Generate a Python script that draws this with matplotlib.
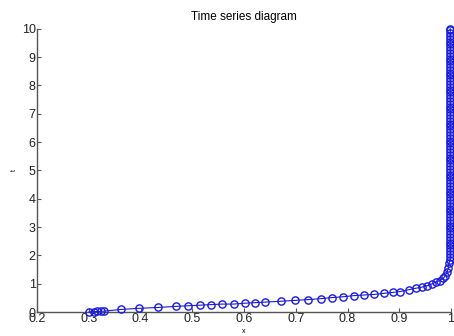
import matplotlib
matplotlib.use("Agg")
import matplotlib.pyplot as plt

# lower branch: x rises from 0.3 towards 1 while t grows slowly
x_low = [0.300, 0.310, 0.316, 0.323, 0.329, 0.362, 0.397, 0.434, 0.469, 0.492,
         0.514, 0.536, 0.558, 0.580, 0.601, 0.621, 0.641, 0.671, 0.699, 0.724,
         0.748, 0.770, 0.792, 0.813, 0.832, 0.851, 0.870, 0.887, 0.901, 0.919,
         0.932, 0.944, 0.954, 0.963, 0.970, 0.978, 0.985, 0.989, 0.992, 0.995,
         0.996]
t_low = [0.00, 0.01, 0.02, 0.02, 0.03, 0.09, 0.13, 0.16, 0.20, 0.22,
         0.24, 0.26, 0.28, 0.28, 0.31, 0.33, 0.35, 0.38, 0.41, 0.44,
         0.47, 0.51, 0.54, 0.58, 0.60, 0.62, 0.66, 0.69, 0.72, 0.79,
         0.84, 0.88, 0.93, 0.99, 1.05, 1.11, 1.19, 1.28, 1.40, 1.55,
         1.73]

# upper branch: x sits at ~1 while t keeps going up to 10
t_high = [1.85, 1.95, 2.05, 2.15, 2.25, 2.35, 2.45, 2.55, 2.65, 2.75,
          2.85, 2.95, 3.05, 3.15, 3.25, 3.35, 3.45, 3.55, 3.65, 3.75,
          3.85, 3.95, 4.05, 4.15, 4.25, 4.35, 4.45, 4.55, 4.65, 4.75,
          4.85, 4.95, 5.05, 5.15, 5.25, 5.35, 5.45, 5.55, 5.65, 5.75,
          5.85, 5.95, 6.05, 6.15, 6.25, 6.35, 6.45, 6.55, 6.65, 6.75,
          6.85, 6.95, 7.05, 7.15, 7.25, 7.35, 7.45, 7.55, 7.65, 7.75,
          7.85, 7.95, 8.05, 8.15, 8.25, 8.35, 8.45, 8.55, 8.65, 8.75,
          8.85, 8.95, 9.05, 9.15, 9.25, 9.35, 9.45, 9.55, 9.65, 9.75,
          9.85, 9.95, 10.0]
x_high = [0.9985] * len(t_high)

x_ticks = [0.2, 0.3, 0.4, 0.5, 0.6, 0.7, 0.8, 0.9, 1.0]
x_ticklabels = ["0.2", "0.3", "0.4", "0.5", "0.6", "0.7", "0.8", "0.9", "1"]
t_ticks = list(range(0, 11))

plt.rcParams["font.family"] = ["Liberation Sans", "DejaVu Sans"]

fig = plt.figure(figsize=(4.54, 3.36), dpi=100)
ax = fig.add_axes([0.0815, 0.0714, 0.912, 0.843])

xs = x_low + x_high
ts = t_low + t_high
ax.plot(xs, ts, color="#1a1acc", linewidth=0.8, marker="o", markersize=5.2,
        markerfacecolor="none", markeredgecolor="#1a1add", markeredgewidth=1.0,
        clip_on=False, zorder=3)

ax.set_xlim(0.2, 1.0)
ax.set_ylim(0, 10)
ax.set_xticks(x_ticks)
ax.set_xticklabels(x_ticklabels)
ax.set_yticks(t_ticks)

for side in ("top", "right"):
    ax.spines[side].set_visible(False)
for side in ("left", "bottom"):
    ax.spines[side].set_color("#555555")
    ax.spines[side].set_linewidth(1.0)

ax.tick_params(direction="in", length=3, width=0.8, color="#555555",
               labelsize=9, labelcolor="#222222", pad=1)

ax.set_title("Time series diagram", fontsize=8.5, pad=6)
ax.set_xlabel("x", fontsize=5, labelpad=2)
ax.set_ylabel("t", fontsize=5, labelpad=3, rotation=90)

fig.savefig("out.png", dpi=100)
